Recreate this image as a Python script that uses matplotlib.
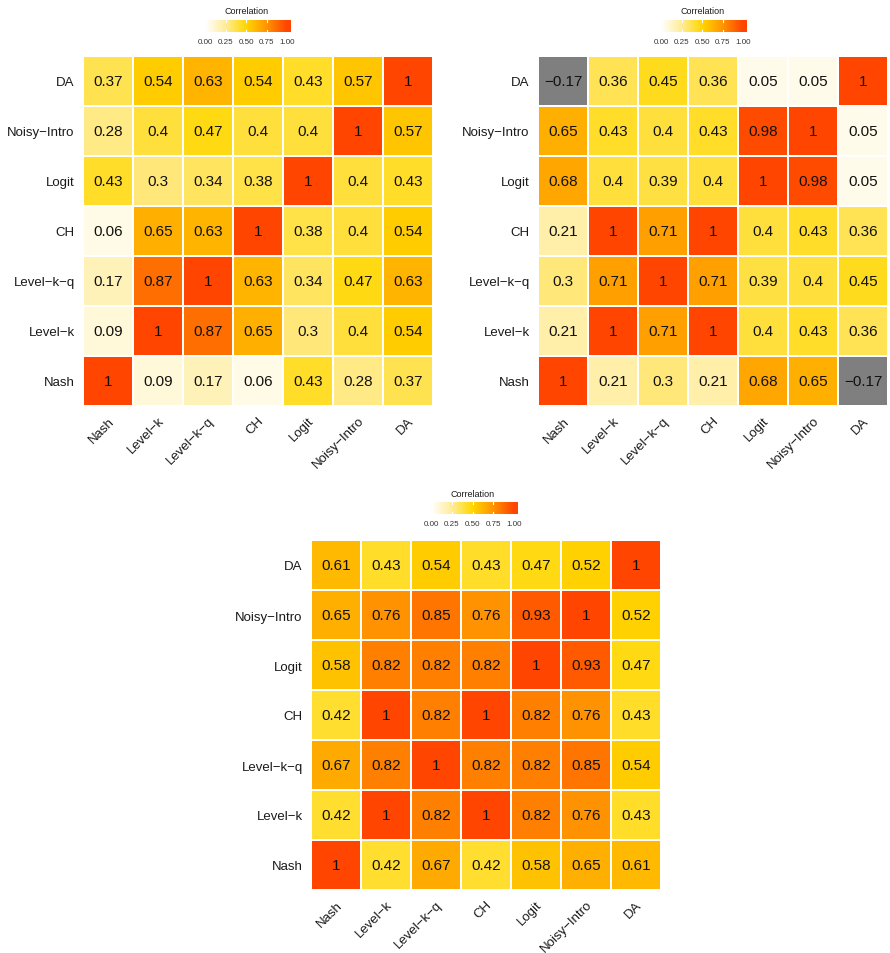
import numpy as np
import matplotlib.pyplot as plt
from matplotlib.colors import LinearSegmentedColormap

plt.rcParams["font.family"] = ["Liberation Sans", "DejaVu Sans"]

models = ["Nash", "Level-k", "Level-k-q", "CH", "Logit", "Noisy-Intro", "DA"]

# rows follow the y order from the bottom (Nash) up to DA, columns left to right
corr_a = [
    [1, 0.09, 0.17, 0.06, 0.43, 0.28, 0.37],
    [0.09, 1, 0.87, 0.65, 0.3, 0.4, 0.54],
    [0.17, 0.87, 1, 0.63, 0.34, 0.47, 0.63],
    [0.06, 0.65, 0.63, 1, 0.38, 0.4, 0.54],
    [0.43, 0.3, 0.34, 0.38, 1, 0.4, 0.43],
    [0.28, 0.4, 0.47, 0.4, 0.4, 1, 0.57],
    [0.37, 0.54, 0.63, 0.54, 0.43, 0.57, 1],
]
corr_b = [
    [1, 0.21, 0.3, 0.21, 0.68, 0.65, -0.17],
    [0.21, 1, 0.71, 1, 0.4, 0.43, 0.36],
    [0.3, 0.71, 1, 0.71, 0.39, 0.4, 0.45],
    [0.21, 1, 0.71, 1, 0.4, 0.43, 0.36],
    [0.68, 0.4, 0.39, 0.4, 1, 0.98, 0.05],
    [0.65, 0.43, 0.4, 0.43, 0.98, 1, 0.05],
    [-0.17, 0.36, 0.45, 0.36, 0.05, 0.05, 1],
]
corr_c = [
    [1, 0.42, 0.67, 0.42, 0.58, 0.65, 0.61],
    [0.42, 1, 0.82, 1, 0.82, 0.76, 0.43],
    [0.67, 0.82, 1, 0.82, 0.82, 0.85, 0.54],
    [0.42, 1, 0.82, 1, 0.82, 0.76, 0.43],
    [0.58, 0.82, 0.82, 0.82, 1, 0.93, 0.47],
    [0.65, 0.76, 0.85, 0.76, 0.93, 1, 0.52],
    [0.61, 0.43, 0.54, 0.43, 0.47, 0.52, 1],
]
legend_ticks = [0.0, 0.25, 0.5, 0.75, 1.0]

# white -> gold -> orangered, with Lab-ish midpoints
cmap = LinearSegmentedColormap.from_list(
    "corr",
    [(0.0, "#ffffff"), (0.25, "#ffec96"), (0.5, "#ffd700"),
     (0.75, "#ff9500"), (1.0, "#ff4500")])
cmap.set_under("#7f7f7f")

W, H = 890, 954
fig = plt.figure(figsize=(W / 100, H / 100), dpi=100)


def px_axes(x0, y0, x1, y1):
    # axes from pixel box (top-left origin)
    return fig.add_axes([x0 / W, 1 - y1 / H, (x1 - x0) / W, (y1 - y0) / H])


def fmt(v):
    return f"{v:g}".replace("-", "\u2212")


def heatmap(box, data):
    ax = px_axes(*box)
    m = np.array(data, dtype=float)
    n = len(models)
    ax.pcolormesh(np.arange(n + 1), np.arange(n + 1), m, cmap=cmap,
                  vmin=0, vmax=1, edgecolors="white", linewidth=1.1)
    for i in range(n):
        for j in range(n):
            ax.text(j + 0.5, i + 0.5, fmt(m[i, j]), ha="center", va="center",
                    fontsize=11, color="#111111")
    labels = [s.replace("-", "\u2212") for s in models]
    ax.set_xticks(np.arange(n) + 0.5)
    ax.set_yticks(np.arange(n) + 0.5)
    ax.set_xticklabels(labels, rotation=45, ha="right", va="top",
                       rotation_mode="anchor", fontsize=9.5, color="#1a1a1a")
    ax.set_yticklabels(labels, fontsize=9.5, color="#1a1a1a")
    ax.tick_params(length=0, pad=6)
    ax.set_xlim(0, n)
    ax.set_ylim(0, n)
    for sp in ax.spines.values():
        sp.set_visible(False)
    return ax


def colorbar(x0, x1, ybar0, ybar1, ytitle, ylab):
    ax = px_axes(x0, ybar0, x1, ybar1)
    lo, hi = -0.04, 1.05
    grad = np.linspace(lo, hi, 300).reshape(1, -1)
    ax.imshow(np.clip(grad, 0, 1), cmap=cmap, vmin=0, vmax=1, aspect="auto",
              extent=[lo, hi, 0, 1])
    for t in legend_ticks[1:-1]:
        ax.plot([t, t], [0, 0.2], color="white", lw=0.8)
        ax.plot([t, t], [0.8, 1], color="white", lw=0.8)
    ax.set_xlim(lo, hi)
    ax.set_ylim(0, 1)
    ax.axis("off")
    xc = (x0 + x1) / 2
    fig.text(xc / W, 1 - ytitle / H, "Correlation", ha="center", va="center",
             fontsize=6.5, color="#1a1a1a")
    for t in legend_ticks:
        xp = x0 + (t - lo) / (hi - lo) * (x1 - x0)
        fig.text(xp / W, 1 - ylab / H, f"{t:.2f}", ha="center", va="center",
                 fontsize=5.8, color="#333333")


heatmap((83, 57, 433, 407), corr_a)
heatmap((538, 57, 888, 407), corr_b)
heatmap((311, 541, 661, 891), corr_c)

colorbar(202, 291, 21, 33, 12, 42)
colorbar(658, 747, 21, 33, 12, 42)
colorbar(428, 518, 503, 515, 495, 524)

fig.savefig("out.png", dpi=100, facecolor="white")
